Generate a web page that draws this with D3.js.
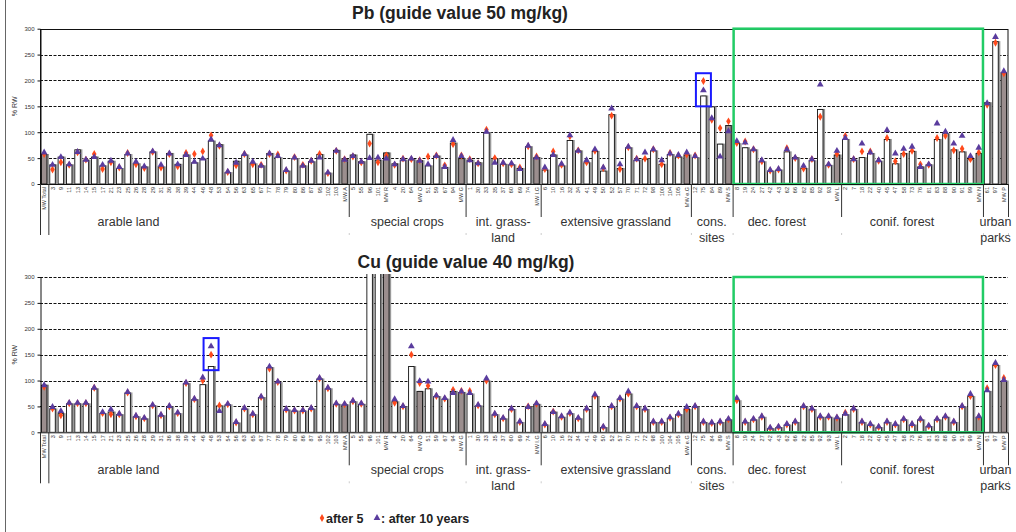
<!DOCTYPE html>
<html>
<head>
<meta charset="utf-8">
<script src="https://cdn.jsdelivr.net/npm/d3@7"></script>
<style>
  body { margin: 0; background: #fff; }
  svg { font-family: Arial, "Liberation Sans", sans-serif; }
</style>
</head>
<body>
<svg id="chart" width="1016" height="532"></svg>
<script>
// groups along the x axis (| marks a line break)
var groupNames = ['', 'arable land', 'special crops', 'int. grass-|land', 'extensive grassland',
  'cons.|sites', 'dec. forest', 'conif. forest', 'urban|parks'];

var groupSites = [
  ['MW Total'],
  ['3', '9', '11', '13', '14', '15', '17', '21', '23', '25', '26', '28', '29', '31', '36', '38', '39', '44',
   '46', '48', '53', '54', '56', '63', '65', '67', '77', '78', '79', '80', '86', '87', '95', '102', '103', 'MW A'],
  ['5', '55', '96', '101', 'MW R', '4', '20', '64', 'MW O', '51', '59', '67', '94', 'MW G'],
  ['1', '30', '33', '35', '37', '60', '69', '74', 'MW I.G'],
  ['6', '10', '16', '32', '34', '41', '49', '50', '52', '57', '70', '71', '72', '98', '100', '104', '105', 'MW e.G'],
  ['12', '75', '84', '89', 'MW S'],
  ['8', '19', '24', '27', '42', '43', '62', '66', '82', '85', '92', '93', 'MW L'],
  ['2', '7', '18', '22', '40', '45', '47', '58', '73', '76', '81', '83', '88', '90', '91', '99', 'MW N'],
  ['61', '97', 'MW P']
];

var yTicks = [0, 50, 100, 150, 200, 250, 300];

// Pb, % of guide value
var pbStart = [58,
  38, 53, 38, 67, 47, 53, 36, 45, 31, 58, 40, 34, 63, 34, 60, 39, 57, 42, 49, 84, 77, 23, 45, 57, 40, 36, 60, 52, 26, 50, 36, 44, 58, 22, 66, 48,
  57, 44, 97, 47, 61, 40, 47, 48, 46, 36, 55, 33, 80, 50,
  47, 42, 100, 50, 39, 38, 31, 73, 52,
  28, 57, 36, 85, 65, 42, 64, 26, 135, 31, 71, 47, 49, 65, 39, 58, 53, 57,
  52, 171, 150, 78, 114,
  79, 71, 67, 44, 26, 28, 63, 52, 31, 46, 145, 37, 57,
  87, 47, 52, 60, 45, 87, 40, 60, 64, 34, 38, 87, 98, 67, 63, 48, 60,
  158, 276, 216];
var pbAfter5 = [58,
  28, 42, 37, 61, 47, 58, 29, 42, 32, 60, 38, 31, 62, 32, 58, 34, 60, 58, 63, 94, 74, 23, 36, 58, 38, 37, 58, 57, 26, 52, 37, 45, 58, 21, 64, 48,
  53, 42, 78, 42, 55, 37, 49, 48, 46, 53, 55, 36, 77, 55,
  48, 40, 105, 50, 40, 38, 32, 73, 53,
  29, 63, 37, 92, 65, 42, 64, 31, 132, 29, 71, 49, 49, 67, 38, 60, 55, 57,
  55, 199, 124, 108, 121,
  79, 82, 67, 44, 26, 28, 69, 50, 30, 48, 130, 37, 58,
  93, 48, 63, 63, 45, 89, 44, 58, 64, 38, 37, 89, 93, 65, 68, 48, 61,
  153, 273, 214];
var pbAfter10 = [60,
  36, 51, 37, 61, 46, 51, 36, 44, 32, 58, 42, 33, 62, 36, 58, 37, 55, 42, 48, 85, 74, 23, 40, 57, 42, 34, 58, 53, 26, 50, 34, 44, 50, 21, 63, 46,
  53, 42, 49, 50, 48, 37, 47, 48, 44, 37, 53, 32, 84, 53,
  45, 39, 100, 40, 40, 39, 28, 73, 50,
  31, 55, 38, 93, 63, 45, 66, 31, 145, 37, 71, 47, 60, 66, 45, 58, 55, 60,
  53, 180, 126, 52, 101,
  82, 79, 66, 45, 26, 28, 66, 50, 34, 47, 191, 37, 63,
  88, 47, 77, 60, 45, 103, 58, 67, 71, 32, 37, 116, 100, 77, 92, 53, 69,
  155, 283, 217];

// Cu, % of guide value (bars off the scale carry no markers)
var cuStart = [92,
  46, 37, 56, 56, 56, 85, 37, 40, 35, 77, 31, 27, 52, 33, 50, 37, 95, 64, 93, 128, 52, 54, 19, 46, 35, 68, 126, 97, 44, 42, 42, 46, 104, 85, 55, 54,
  60, 55, 600, 600, 600, 60, 50, 128, 80, 85, 70, 65, 80, 78,
  75, 52, 100, 35, 27, 45, 20, 50, 55,
  15, 40, 30, 37, 27, 45, 70, 10, 50, 65, 75, 50, 45, 20, 20, 28, 35, 45,
  50, 20, 18, 20, 25,
  62, 20, 25, 30, 8, 10, 15, 20, 50, 45, 30, 30, 28,
  35, 45, 20, 15, 10, 20, 15, 25, 15, 25, 12, 25, 30, 20, 50, 70, 30,
  80, 130, 100];
var cuAfter5 = [88,
  46, 33, 56, 56, 56, 86, 37, 35, 35, 77, 31, 27, 52, 33, 50, 37, 95, 64, 100, 150, 52, 54, 19, 46, 35, 68, 123, 97, 44, 42, 42, 46, 104, 85, 55, 54,
  60, 55, null, null, null, 57, 50, 150, 95, 90, 70, 65, 82, 80,
  80, 52, 100, 35, 27, 45, 20, 50, 55,
  15, 40, 30, 37, 27, 45, 70, 10, 50, 65, 75, 50, 45, 20, 20, 28, 35, 45,
  50, 20, 18, 20, 25,
  62, 20, 25, 30, 8, 10, 15, 20, 50, 45, 30, 30, 28,
  38, 45, 20, 15, 10, 20, 15, 25, 15, 25, 12, 25, 30, 20, 50, 70, 30,
  85, 130, 105];
var cuAfter10 = [90,
  48, 40, 56, 56, 56, 85, 38, 43, 35, 77, 31, 27, 52, 33, 50, 37, 95, 64, 105, 165, 40, 54, 19, 46, 35, 68, 126, 97, 44, 42, 42, 46, 104, 85, 55, 54,
  60, 55, null, null, null, 63, 50, 165, 98, 97, 70, 65, 75, 78,
  75, 52, 103, 35, 27, 45, 20, 48, 55,
  15, 38, 30, 37, 27, 45, 72, 10, 50, 65, 78, 50, 45, 20, 20, 28, 35, 48,
  50, 20, 18, 20, 25,
  65, 20, 25, 30, 8, 10, 15, 20, 50, 45, 30, 30, 28,
  35, 45, 20, 15, 10, 20, 15, 25, 15, 25, 12, 25, 30, 20, 50, 73, 30,
  80, 133, 100];

var svg = d3.select('#chart');
var ink = '#333';

var sites = [];
var groupStart = [];
groupSites.forEach(function(list, gi) {
  groupStart.push(sites.length);
  list.forEach(function(s) { sites.push({ label: s, group: gi }); });
});
groupStart.push(sites.length);

var x = d3.scaleBand()
  .domain(d3.range(sites.length))
  .range([40, 1008])
  .paddingInner(0.22)
  .paddingOuter(0.11);
var step = x.step();
var edge = function(i) { return 40 + i * step; };

// the whole chart sits in a frame that only shows on the left
svg.append('line').attr('x1', 5.5).attr('x2', 5.5).attr('y1', 0).attr('y2', 532)
  .attr('stroke', '#666').attr('stroke-width', 1);

var drawPanel = function drawPanel(top, title, titleX, base, after5, after10, opts) {
  var g = svg.append('g');
  var y = d3.scaleLinear().domain([0, 300]).range([top + 155.3, top]);
  var y0 = y(0);

  // grid
  g.selectAll('.grid').data(yTicks.filter(function(t) { return t > 0 && (t < 300 || opts.dashTop); }))
    .enter().append('line')
    .attr('x1', 40).attr('x2', 1008)
    .attr('y1', function(d) { return Math.round(y(d)) + 0.5; })
    .attr('y2', function(d) { return Math.round(y(d)) + 0.5; })
    .attr('stroke', '#111').attr('stroke-width', 1).attr('stroke-dasharray', '3,1.5');

  if (!opts.dashTop) {
    g.append('rect').attr('x', 40.5).attr('y', Math.round(y(300)) + 0.5)
      .attr('width', 967.5).attr('height', y0 - Math.round(y(300)))
      .attr('fill', 'none').attr('stroke', '#111').attr('stroke-width', 1);
  }

  var clipId = 'clip' + Math.round(top);
  g.append('clipPath').attr('id', clipId).append('rect')
    .attr('x', 0).attr('y', opts.clipTop).attr('width', 1016).attr('height', y0 - opts.clipTop);

  var bars = g.append('g').attr('clip-path', 'url(#' + clipId + ')');
  bars.selectAll('.shadow').data(base).enter().append('rect')
    .attr('x', function(d, i) { return x(i) + 1.6; })
    .attr('y', function(d) { return y(d); })
    .attr('width', x.bandwidth())
    .attr('height', function(d) { return y0 - y(d); })
    .attr('fill', '#9a9a9a');
  bars.selectAll('.bar').data(base).enter().append('rect')
    .attr('x', function(d, i) { return x(i) + 0.5; })
    .attr('y', function(d) { return y(d) + 0.5; })
    .attr('width', x.bandwidth() - 1)
    .attr('height', function(d) { return Math.max(0, y0 - y(d) - 0.5); })
    .attr('fill', function(d, i) { return sites[i].label.indexOf('MW') === 0 ? '#9b8e8e' : '#fff'; })
    .attr('stroke', '#111').attr('stroke-width', 0.9);

  var cx = function(i) { return x(i) + x.bandwidth() / 2; };
  var withIndex = function(arr) {
    return arr.map(function(v, i) { return { v: v, i: i }; }).filter(function(d) { return d.v != null; });
  };
  g.selectAll('.m5').data(withIndex(after5)).enter().append('path')
    .attr('d', d3.symbol(d3.symbolDiamond, 18))
    .attr('transform', function(d) { return 'translate(' + cx(d.i) + ',' + y(d.v) + ')'; })
    .attr('fill', '#ff4a1c');
  g.selectAll('.m10').data(withIndex(after10)).enter().append('path')
    .attr('d', d3.symbol(d3.symbolTriangle, 20))
    .attr('transform', function(d) { return 'translate(' + cx(d.i) + ',' + (y(d.v) - 0.5) + ')'; })
    .attr('fill', '#5a3c9e');

  // forests in green
  g.append('rect')
    .attr('x', edge(groupStart[6]) + 1).attr('y', y(300))
    .attr('width', edge(groupStart[8]) - edge(groupStart[6]) - 1)
    .attr('height', y0 - y(300))
    .attr('fill', 'none').attr('stroke', '#22cc66').attr('stroke-width', 2.5);

  // highlighted site
  g.append('rect')
    .attr('x', cx(opts.boxIndex) - 7.5).attr('y', y(opts.boxRange[1]))
    .attr('width', 15).attr('height', y(opts.boxRange[0]) - y(opts.boxRange[1]))
    .attr('fill', 'none').attr('stroke', '#1a1aff').attr('stroke-width', 2);

  // y axis
  var axis = g.append('g').attr('transform', 'translate(40.5,0)')
    .call(d3.axisLeft(y).tickValues(yTicks).tickSize(3).tickSizeOuter(0));
  axis.select('.domain').attr('stroke', '#111');
  axis.selectAll('.tick line').attr('stroke', '#111');
  axis.selectAll('.tick text').style('font-size', '6px').style('fill', ink)
    .style('font-family', 'Arial, "Liberation Sans", sans-serif');

  g.append('text')
    .attr('transform', 'translate(17,' + y(150) + ') rotate(-90)')
    .attr('text-anchor', 'middle')
    .style('font-size', '7px').style('fill', ink)
    .text('% RW');

  // category axis, two levels
  g.append('line').attr('x1', 40).attr('x2', 1008).attr('y1', y0 + 0.5).attr('y2', y0 + 0.5)
    .attr('stroke', '#111');

  g.selectAll('.site').data(sites).enter().append('text')
    .attr('transform', function(d, i) { return 'translate(' + (cx(i) + 2) + ',' + (y0 + 3) + ') rotate(-90)'; })
    .attr('text-anchor', 'end')
    .style('font-size', '5.5px').style('fill', ink)
    .text(function(d) { return d.label; });

  groupStart.forEach(function(s, k) {
    var full = k <= 1;
    g.append('line')
      .attr('x1', edge(s) + 0.5).attr('x2', edge(s) + 0.5)
      .attr('y1', y0).attr('y2', y0 + (full ? 51 : 33))
      .attr('stroke', '#333').attr('stroke-width', 1);
    if (!full) {
      g.append('line')
        .attr('x1', edge(s) + 0.5).attr('x2', edge(s) + 0.5)
        .attr('y1', y0 + 49).attr('y2', y0 + 51)
        .attr('stroke', '#ccc').attr('stroke-width', 1);
    }
  });

  var labelShift = { 1: -70, 6: -10, 7: -10 };
  groupNames.forEach(function(name, k) {
    if (!name) return;
    var mid = (edge(groupStart[k]) + edge(groupStart[k + 1])) / 2 + (labelShift[k] || 0);
    name.split('|').forEach(function(line, j) {
      g.append('text')
        .attr('x', mid).attr('y', y0 + 42 + j * 16)
        .attr('text-anchor', 'middle')
        .style('font-size', '12.5px').style('fill', ink)
        .text(line);
    });
  });

  g.append('text')
    .attr('x', titleX).attr('y', top - 9.5)
    .attr('text-anchor', 'middle')
    .style('font-size', '17.5px').style('font-weight', 'bold').style('fill', '#222')
    .text(title);
};

drawPanel(28.7, 'Pb (guide value 50 mg/kg)', 460, pbStart, pbAfter5, pbAfter10,
  { dashTop: false, clipTop: 28, boxIndex: 79, boxRange: [150, 214] });
drawPanel(277, 'Cu (guide value 40 mg/kg)', 466, cuStart, cuAfter5, cuAfter10,
  { dashTop: true, clipTop: 274, boxIndex: 20, boxRange: [120, 182] });

// legend
var legend = svg.append('g').attr('transform', 'translate(0,518)');
legend.append('path').attr('d', d3.symbol(d3.symbolDiamond, 18)).attr('transform', 'translate(322,0)')
  .attr('fill', '#ff4a1c');
legend.append('text').attr('x', 326).attr('y', 4.5).style('font-size', '12.5px').style('font-weight', 'bold')
  .style('fill', '#222').text('after 5');
legend.append('path').attr('d', d3.symbol(d3.symbolTriangle, 20)).attr('transform', 'translate(377,0)')
  .attr('fill', '#5a3c9e');
legend.append('text').attr('x', 381).attr('y', 4.5).style('font-size', '12.5px').style('font-weight', 'bold')
  .style('fill', '#222').text(': after 10 years');
</script>
</body>
</html>
